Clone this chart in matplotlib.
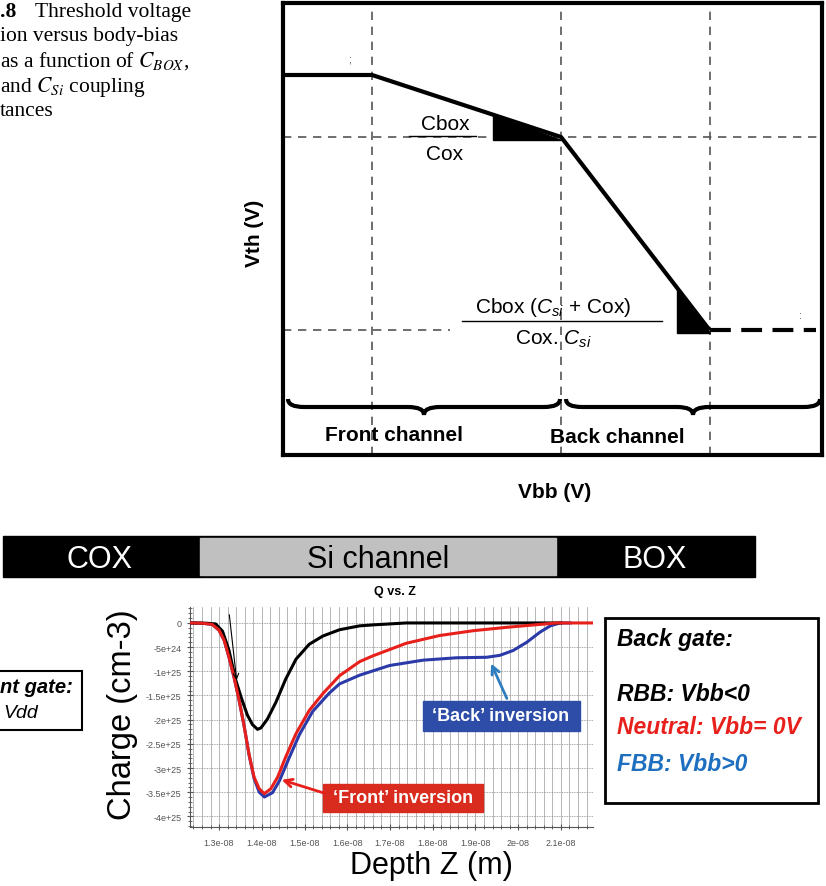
import numpy as np
import matplotlib
matplotlib.use("Agg")
import matplotlib.pyplot as plt
from matplotlib.patches import Rectangle, Polygon, PathPatch
from matplotlib.path import Path
from matplotlib.ticker import MultipleLocator, FixedLocator

plt.rcParams['font.family'] = ['Liberation Sans', 'DejaVu Sans']
plt.rcParams['mathtext.fontset'] = 'custom'
plt.rcParams['mathtext.rm'] = 'Liberation Sans'
plt.rcParams['mathtext.it'] = 'Liberation Sans:italic'

# --- top schematic: Vth vs Vbb (arbitrary units)
vbb_curve = [-3.09, -2.1, 0.0, 1.65]
vth_curve = [3.80, 3.80, 3.18, 1.25]
vbb_tail = [1.65, 2.83]
vth_tail = [1.25, 1.25]
vbb_grid = [-2.1, 0.0, 1.65]
tri_starts = [-0.76, 1.29]      # left edge of the slope triangles
tri_corners = [0.0, 1.65]

# --- bottom plot: charge vs depth (depth in nm, charge in 1e25 cm-3)
rbb_z = [12.32, 12.7, 12.92, 13.08, 13.23, 13.39, 13.51, 13.66, 13.78, 13.9,
         13.98, 14.13, 14.33, 14.56, 14.8, 15.11, 15.43, 15.82, 16.29, 16.6,
         17.38, 19.0, 21.0]
rbb_q = [0, -0.005, -0.02, -0.17, -0.56, -1.18, -1.52, -1.9, -2.1, -2.2,
         -2.17, -1.99, -1.64, -1.16, -0.75, -0.44, -0.27, -0.14, -0.06, -0.04,
         0, 0, 0]
neu_z = [12.32, 12.6, 12.84, 13.0, 13.12, 13.23, 13.35, 13.47, 13.59, 13.70,
         13.82, 13.94, 14.06, 14.21, 14.37, 14.56, 14.80, 15.11, 15.43, 15.82,
         16.29, 16.6, 17.38, 18.16, 18.95, 19.73, 20.51, 20.9, 21.75]
neu_q = [0, -0.005, -0.03, -0.15, -0.36, -0.70, -1.12, -1.6, -2.15, -2.71,
         -3.19, -3.43, -3.53, -3.43, -3.19, -2.77, -2.29, -1.81, -1.46, -1.09,
         -0.80, -0.68, -0.42, -0.26, -0.16, -0.09, -0.03, 0, 0]
fbb_z = [12.32, 12.6, 12.84, 13.0, 13.12, 13.23, 13.35, 13.47, 13.59, 13.70,
         13.82, 13.94, 14.06, 14.25, 14.41, 14.64, 14.88, 15.19, 15.58, 15.82,
         16.29, 16.99, 17.77, 18.56, 19.26, 19.57, 19.88, 20.2, 20.51, 20.75,
         20.98, 21.22]
fbb_q = [0, -0.005, -0.03, -0.15, -0.36, -0.70, -1.12, -1.6, -2.15, -2.72,
         -3.22, -3.5, -3.6, -3.51, -3.27, -2.79, -2.31, -1.83, -1.45, -1.26,
         -1.08, -0.88, -0.77, -0.72, -0.71, -0.67, -0.57, -0.40, -0.19, -0.06,
         0, 0]
x_ticks = [1.3e-8, 1.4e-8, 1.5e-8, 1.6e-8, 1.7e-8, 1.8e-8, 1.9e-8, 2.0e-8, 2.1e-8]
x_labels = ['1.3e-08', '1.4e-08', '1.5e-08', '1.6e-08', '1.7e-08', '1.8e-08',
            '1.9e-08', '2e-08', '2.1e-08']
y_ticks = [0, -5e24, -1e25, -1.5e25, -2e25, -2.5e25, -3e25, -3.5e25, -4e25]
y_labels = ['0', '-5e+24', '-1e+25', '-1.5e+25', '-2e+25', '-2.5e+25',
            '-3e+25', '-3.5e+25', '-4e+25']

W, H = 826, 887
fig = plt.figure(figsize=(W / 100, H / 100), dpi=100)


def fax(x0, y0, x1, y1):
    # pixel box (top-left origin) -> figure fraction
    return [x0 / W, 1 - y1 / H, (x1 - x0) / W, (y1 - y0) / H]


# ---------------- top schematic
ax1 = fig.add_axes(fax(283, 4, 822, 456))
ax1.set_xlim(-3.09, 2.9)
ax1.set_ylim(0, 4.52)
ax1.set_xticks([])
ax1.set_yticks([])
for s in ax1.spines.values():
    s.set_linewidth(3)
dash = (0, (5, 4))
for v in vbb_grid:
    ax1.axvline(v, color='#555555', lw=1.2, ls=dash, zorder=1)
ax1.axhline(vth_curve[2], color='#555555', lw=1.2, ls=dash, zorder=1)
ax1.plot([-3.09, -1.23], [vth_curve[3]] * 2, color='#555555', lw=1.2, ls=dash, zorder=1)
ax1.plot(vbb_curve, vth_curve, color='black', lw=3, solid_capstyle='butt', zorder=3)
ax1.plot(vbb_tail, vth_tail, color='black', lw=3, ls=(0, (5, 2.5)), zorder=3)
for xs, xc in zip(tri_starts, tri_corners):
    y_top = np.interp(xs, vbb_curve, vth_curve)
    y_c = np.interp(xc, vbb_curve, vth_curve)
    ax1.add_patch(Polygon([(xs, y_top), (xs, y_c - 0.03), (xc, y_c - 0.03)],
                          closed=True, color='black', zorder=3))

# ---------------- bottom plot
ax2 = fig.add_axes(fax(190, 608, 593, 828))
z_scale = 1e-9
q_scale = 1e25
line_kw = dict(lw=2.2, solid_joinstyle='round', zorder=3)
ax2.plot(np.array(fbb_z) * z_scale, np.array(fbb_q) * q_scale, color='#2b3aa8', **line_kw)
ax2.plot(np.array(rbb_z) * z_scale, np.array(rbb_q) * q_scale, color='black', **line_kw)
ax2.plot(np.array(neu_z) * z_scale, np.array(neu_q) * q_scale, color='#e8201c', **line_kw)
ax2.set_xlim(1.232e-8, 2.175e-8)
ax2.set_ylim(-4.22e25, 0.33e25)
ax2.xaxis.set_major_locator(FixedLocator(x_ticks))
ax2.set_xticklabels(x_labels)
ax2.yaxis.set_major_locator(FixedLocator(y_ticks))
ax2.set_yticklabels(y_labels)
ax2.xaxis.set_minor_locator(MultipleLocator(2e-10))
ax2.yaxis.set_minor_locator(MultipleLocator(1e24))
ax2.tick_params(labelsize=6.5, colors='#555555', length=4, width=0.8, direction='inout')
ax2.tick_params(which='minor', length=2.5, width=0.6, color='#555555', direction='inout')
ax2.tick_params(axis='x', pad=6)
ax2.tick_params(axis='y', pad=4)
ax2.grid(which='both', axis='x', color='#9a9a9a', lw=0.5)
ax2.grid(which='major', axis='y', color='#8a8a8a', lw=0.6, ls=(0, (1, 1)))
for side in ['top', 'right']:
    ax2.spines[side].set_visible(False)
for side in ['left', 'bottom']:
    ax2.spines[side].set_color('#555555')
    ax2.spines[side].set_linewidth(0.8)

# ---------------- overlay in pixel coords
ov = fig.add_axes([0, 0, 1, 1], zorder=5)
ov.set_xlim(0, W)
ov.set_ylim(H, 0)
ov.axis('off')

# caption (cut at the left edge)
cap_font = dict(family='Liberation Serif', fontsize=15.5, va='center', ha='left')
ov.text(0, 12, '.8', fontweight='bold', **cap_font)
ov.text(35, 12, 'Threshold voltage', **cap_font)
ov.text(0, 37, 'ion versus body-bias', **cap_font)
ov.text(0, 61, 'as a function of $C_{BOX}$,', math_fontfamily='stix', **cap_font)
ov.text(0, 87, 'and $C_{Si}$ coupling', math_fontfamily='stix', **cap_font)
ov.text(0, 112, 'tances', **cap_font)

# fractions
ov.text(445, 124, 'Cbox', fontsize=15, ha='center', va='center')
ov.plot([409, 476], [137, 137], color='black', lw=1)
ov.text(445, 155, 'Cox', fontsize=15, ha='center', va='center')
ov.text(553, 308, 'Cbox ($C_{si}$ + Cox)', fontsize=15, ha='center', va='center')
ov.plot([462, 662], [322, 322], color='black', lw=1)
ov.text(553, 339, 'Cox. $C_{si}$', fontsize=15, ha='center', va='center')
ov.text(350, 60, ';', fontsize=8, color='#555555', ha='center', va='center')
ov.text(801, 316, ':', fontsize=8, color='#555555', ha='center', va='center')


def brace(x0, x1, y, h):
    xm = (x0 + x1) / 2
    verts = [(x0, y - h), (x0, y), (x0 + 2 * h, y), (xm - 2 * h, y), (xm, y), (xm, y + h),
             (xm, y), (xm + 2 * h, y), (x1 - 2 * h, y), (x1, y), (x1, y - h)]
    codes = [Path.MOVETO, Path.CURVE3, Path.CURVE3, Path.LINETO, Path.CURVE3, Path.CURVE3,
             Path.CURVE3, Path.CURVE3, Path.LINETO, Path.CURVE3, Path.CURVE3]
    ov.add_patch(PathPatch(Path(verts, codes), fill=False, lw=3, color='black'))


brace(288, 560, 408, 8)
brace(566, 820, 408, 8)
ov.text(394, 436, 'Front channel', fontsize=15, fontweight='bold', ha='center', va='center')
ov.text(617, 438, 'Back channel', fontsize=15, fontweight='bold', ha='center', va='center')
ov.text(255, 233, 'Vth (V)', fontsize=15, fontweight='bold', rotation=90, ha='center', va='center')
ov.text(555, 493, 'Vbb (V)', fontsize=15, fontweight='bold', ha='center', va='center')

# layer bar
ov.add_patch(Rectangle((3, 537), 752, 41, color='black'))
ov.add_patch(Rectangle((200, 539), 356, 37, color='#c0c0c0'))
bar_font = dict(fontsize=22, ha='center', va='center')
ov.text(100, 560, 'COX', color='white', **bar_font)
ov.text(378, 560, 'Si channel', color='black', **bar_font)
ov.text(655, 560, 'BOX', color='white', **bar_font)
ov.text(395, 592, 'Q vs. Z', fontsize=9, fontweight='bold', ha='center', va='center')

# axis labels of the charge plot
ov.text(122, 715, 'Charge (cm-3)', fontsize=23.5, rotation=90, ha='center', va='center')
ov.text(431, 866, 'Depth Z (m)', fontsize=22, ha='center', va='center')

# annotations
ov.annotate('', xy=(237, 684), xytext=(229, 613),
            arrowprops=dict(arrowstyle='->', color='black', lw=0.8))
ov.add_patch(Rectangle((323, 785), 160, 28, color='#d92b1e'))
ov.text(403, 799, '\u2018Front\u2019 inversion', color='white', fontsize=13,
        fontweight='bold', ha='center', va='center')
ov.annotate('', xy=(279, 780), xytext=(327, 795),
            arrowprops=dict(arrowstyle='->', color='#e8201c', lw=2, mutation_scale=14))
ov.add_patch(Rectangle((423, 702), 157, 30, color='#2e4da8'))
ov.text(501, 717, '\u2018Back\u2019 inversion', color='white', fontsize=13,
        fontweight='bold', ha='center', va='center')
ov.annotate('', xy=(490, 662), xytext=(508, 702),
            arrowprops=dict(arrowstyle='->', color='#2d7dc0', lw=2, mutation_scale=14))

# back gate box
ov.add_patch(Rectangle((605, 619), 213, 185, fill=False, lw=2, ec='black'))
leg_font = dict(fontsize=16.5, fontweight='bold', style='italic', ha='left', va='center')
ov.text(617, 640, 'Back gate:', color='black', **leg_font)
ov.text(617, 695, 'RBB: Vbb<0', color='black', **leg_font)
ov.text(617, 728, 'Neutral: Vbb= 0V', color='#e8201c', **leg_font)
ov.text(617, 765, 'FBB: Vbb>0', color='#1f6fc0', **leg_font)

# front gate box (cut at the left edge)
ov.add_patch(Rectangle((-5, 672), 87, 59, fill=False, lw=1.5, ec='black'))
ov.text(73, 688, 'nt gate:', fontsize=14.5, fontweight='bold', style='italic', ha='right', va='center')
ov.text(3, 714, 'Vdd', fontsize=14, style='italic', ha='left', va='center')

fig.savefig('out.png', dpi=100)
